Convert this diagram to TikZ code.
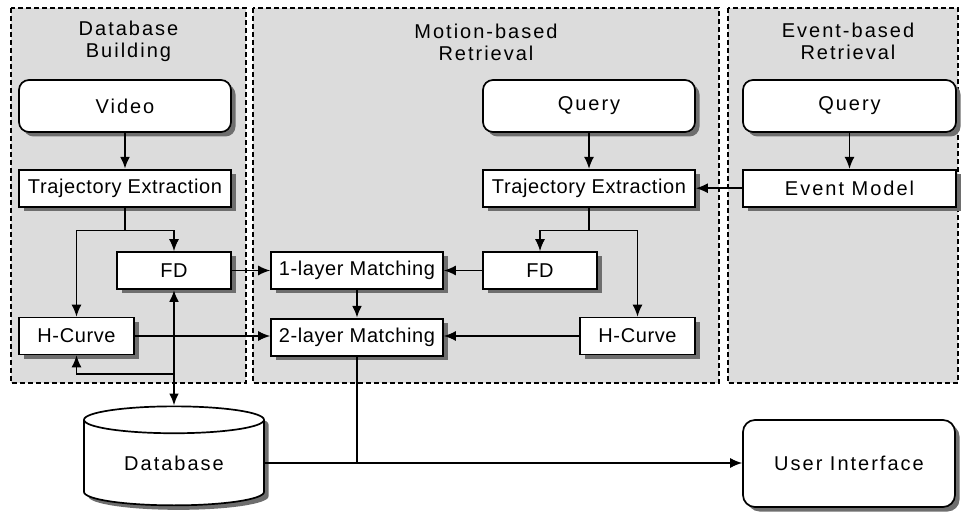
\documentclass[tikz,border=0pt]{standalone}
\usepackage{fontspec}
\setmainfont{Liberation Sans}[LetterSpace=3]
\newfontfamily\widesans{Liberation Sans}[LetterSpace=10]
\usepackage{tikz}
\usetikzlibrary{shapes.geometric, arrows.meta, positioning, shadows, calc}
\definecolor{panelgrey}{RGB}{220, 220, 220}
\definecolor{shadowgrey}{RGB}{110, 110, 110}

\begin{document}
\begin{tikzpicture}[
    x=1pt, y=-1pt,
    font=\fontsize{20}{22}\selectfont,
    >={Latex[length=12pt,width=10pt]},
    panel/.style={draw, fill=panelgrey, line width=1.2pt, dash pattern=on 5pt off 3pt},
    paneltitle/.style={align=center, font=\fontsize{20}{22}\selectfont\widesans},
    boxshadow/.style={drop shadow={shadow xshift=4.5pt, shadow yshift=-4.5pt, fill=shadowgrey, opacity=1}},
    block/.style={rectangle, draw, fill=white, line width=1.7pt, minimum height=37pt, inner sep=0pt, boxshadow},
    terminal/.style={block, rounded corners=10pt, minimum width=212pt, minimum height=52pt, font=\fontsize{20}{22}\selectfont\widesans},
    store/.style={cylinder, shape border rotate=90, aspect=0.27, draw, fill=white, line width=1.7pt, minimum width=180pt, minimum height=99pt, inner sep=0pt, font=\fontsize{20}{22}\selectfont\widesans, boxshadow},
    link/.style={draw, ->, line width=1.4pt},
    bus/.style={line width=2.8pt}
]
\useasboundingbox (0,0) rectangle (962,513);

% panels
\path [panel] (11,8) rectangle (246,383);
\path [panel] (253,8) rectangle (719,383);
\path [panel] (728,8) rectangle (958,383);

\node [paneltitle] (dbtitle) at (128.5,41.5) {Database\\Building};
\node [paneltitle] (mtitle) at (486,42) {Motion-based\\Retrieval};
\node [paneltitle] (etitle) at (848,41.5) {Event-based\\Retrieval};

% database building
\node [terminal] (video) at (125,106) {Video};
\node [block, minimum width=212pt, below=36pt of video] (dbtraj) {Trajectory Extraction};
\node [block, minimum width=114pt] (dbfd) at (174,270.5) {FD};
\node [block, minimum width=115pt] (dbhc) at (76.5,336) {H-Curve};
\node [store] (db) at (174,463) {Database};

% motion-based retrieval
\node [block, minimum width=172pt] (match1) at (357,270.5) {1-layer Matching};
\node [block, minimum width=172pt, below=28pt of match1] (match2) {2-layer Matching};
\node [terminal] (mquery) at (589,106) {Query};
\node [block, minimum width=212pt, below=36pt of mquery] (mtraj) {Trajectory Extraction};
\node [block, minimum width=114pt] (mfd) at (540,270.5) {FD};
\node [block, minimum width=115pt] (mhc) at (637.5,336) {H-Curve};

% event-based retrieval
\node [terminal, minimum width=213pt] (equery) at (849.5,106) {Query};
\node [block, minimum width=213pt, below=36pt of equery, font=\fontsize{20}{22}\selectfont\widesans] (emodel) {Event Model};

\node [terminal, rounded corners=12pt, minimum height=87pt] (ui) at (849,463.5) {User Interface};

\path [link, bus] (video) -- (dbtraj);
\path [draw, line width=1.4pt] (dbtraj.south) -- ++(0,23) coordinate (dbsplit);
\path [link] (dbsplit) -| (dbfd.north);
\path [link] (dbsplit) -| (dbhc.north);
\path [link] (dbfd) -- (match1);
\path [link] (dbhc.east) -- (dbhc.east -| match2.west);
\path [draw, <->, bus] (dbfd.south) -- (db.north);
\coordinate (dbtap) at (174,374);
\path [link] (dbtap) -| (dbhc.south);

\path [link, bus] (match1) -- (match2);
\path [link] (mquery) -- (mtraj);
\path [draw, line width=1.4pt] (mtraj.south) -- ++(0,23) coordinate (msplit);
\path [link] (msplit) -| (mfd.north);
\path [link] (msplit) -| (mhc.north);
\path [link] (mfd) -- (match1);
\path [link] (mhc.west) -- (mhc.west -| match2.east);

\path [link] (equery) -- (emodel);
\path [link] (emodel) -- (mtraj);

\path [link] (db.east) -- (db.east -| ui.west);
\path [draw, line width=1.4pt] (match2.south) -- (match2.south |- db.east);

\end{tikzpicture}
\end{document}
